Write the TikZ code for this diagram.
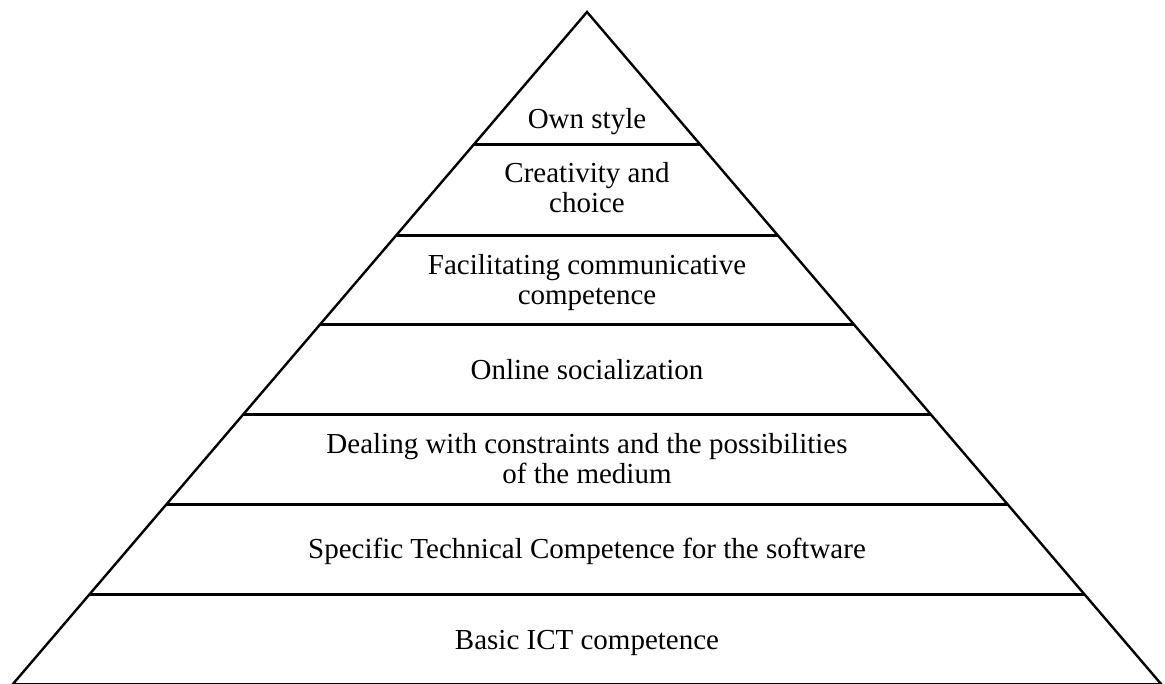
\documentclass[tikz,border=0pt]{standalone}
\usepackage{fontspec}
\setmainfont{Liberation Serif}
\usetikzlibrary{calc}
\begin{document}
\begin{tikzpicture}[x=1pt,y=-1pt,
  edge/.style={line width=2.4pt,black},
  level/.style={line width=3pt,black},
  tier/.style={inner sep=0pt,anchor=base,align=center,
    font=\fontsize{29}{30}\selectfont}]
\useasboundingbox (0,0) rectangle (1165,684);
% outline of the pyramid
\coordinate (apex) at (587,12);
\coordinate (bl) at (12.5,684.5);
\coordinate (br) at (1161.5,684.5);
\draw[edge,line join=miter] (bl) -- (apex) -- (br);
\draw[edge] (bl) -- (br);
% dividing levels
\foreach \y [count=\i] in {145,235,324.5,414.5,504.5,594.5}{
  \pgfmathsetmacro{\t}{(\y-12)/672.5}
  \coordinate (l\i) at ($(apex)!\t!(bl)$);
  \coordinate (r\i) at ($(apex)!\t!(br)$);
  \draw[level] (l\i) -- (r\i);
}
% labels, from the top down (anchored on the baseline of the last line)
\node[tier] (own) at (587,129) {Own style};
\node[tier] (crea) at (587,213) {Creativity and\\choice};
\node[tier] (faci) at (587,305) {Facilitating communicative\\competence};
\node[tier] (onli) at (587,379.3) {Online socialization};
\node[tier] (deal) at (587,483) {Dealing with constraints and the possibilities\\of the medium};
\node[tier] (spec) at (587,558) {Specific Technical Competence for the software};
\node[tier] (basi) at (587,649.3) {Basic ICT competence};
\end{tikzpicture}
\end{document}
